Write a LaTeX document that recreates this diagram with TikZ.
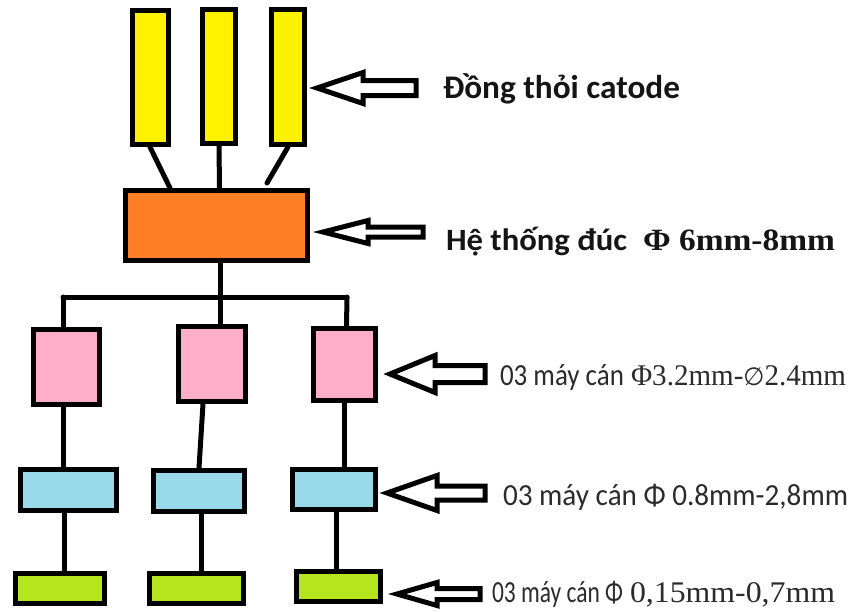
\documentclass[tikz,border=0pt]{standalone}
\usepackage{fontspec}
\usepackage{graphicx}
\newfontfamily\carl{Carlito}
\newfontfamily\tms{Liberation Serif}
\newfontfamily\djs{DejaVu Sans}
\definecolor{cyel}{HTML}{FFF200}
\definecolor{cora}{HTML}{FF7F27}
\definecolor{cpink}{HTML}{FFAEC9}
\definecolor{cblue}{HTML}{99D9EA}
\definecolor{cgreen}{HTML}{B5E61D}
\definecolor{ctxb}{HTML}{151515}
\definecolor{ctxr}{HTML}{2B2B2B}
\newcommand\barr[6]{\draw[barrow] (#1,#2) -- ++(#3,-#4) -- ++(0,{#4-#5}) -- ++(#6,0) -- ++(0,{2*#5}) -- ++(-#6,0) -- ++(0,{#4-#5}) -- cycle;}
\begin{document}
\begin{tikzpicture}[x=1pt,y=-1pt,
  box/.style={draw=black,line width=5pt,inner sep=0pt,anchor=center},
  conn/.style={draw=black,line width=5pt,line cap=round},
  barrow/.style={draw=black,fill=white,line width=5pt,line join=miter},
  lbl/.style={anchor=base west,inner sep=0pt,outer sep=0pt}]
\useasboundingbox[fill=white] (0,0) rectangle (854,611);

% cathode bars
\node[box,fill=cyel,minimum width=36pt,minimum height=134pt] (y1) at (150,77.5) {};
\node[box,fill=cyel,minimum width=33pt,minimum height=134pt] (y2) at (219,76.5) {};
\node[box,fill=cyel,minimum width=33pt,minimum height=135pt] (y3) at (288,77) {};
% casting
\node[box,fill=cora,minimum width=182pt,minimum height=70pt] (o) at (216.5,225.5) {};
% pink
\node[box,fill=cpink,minimum width=66pt,minimum height=75pt] (p1) at (66.5,367) {};
\node[box,fill=cpink,minimum width=67pt,minimum height=75pt] (p2) at (212,364) {};
\node[box,fill=cpink,minimum width=62pt,minimum height=72pt] (p3) at (344.5,364.5) {};
% blue
\node[box,fill=cblue,minimum width=96pt,minimum height=41pt] (b1) at (68.5,490) {};
\node[box,fill=cblue,minimum width=91pt,minimum height=41pt] (b2) at (199,491) {};
\node[box,fill=cblue,minimum width=83pt,minimum height=40pt] (b3) at (334,489.5) {};
% green
\node[box,fill=cgreen,minimum width=89pt,minimum height=30pt] (g1) at (60,588.5) {};
\node[box,fill=cgreen,minimum width=94pt,minimum height=30pt] (g2) at (196.5,588.5) {};
\node[box,fill=cgreen,minimum width=84pt,minimum height=30pt] (g3) at (338.5,586.5) {};

\coordinate (y3e) at (267,183);
\coordinate (busL) at (63,297);
\coordinate (busM) at (220.5,297);
\coordinate (busR) at (347,297);

% connectors
\draw[conn] (y1.south) -- ([xshift=-46.5]o.north);
\draw[conn] (y2.south) -- ([xshift=3]o.north);
\draw[conn] (y3.south) -- (y3e);
\draw[conn] ([xshift=4]o.south) -- (busM);
\draw[conn] (busL) -- (busR);
\draw[conn] (busL) -- ([xshift=-3.5]p1.north);
\draw[conn] (busM) -- ([xshift=8.5]p2.north);
\draw[conn] (busR) -- ([xshift=2]p3.north);
\draw[conn] ([xshift=-3.5]p1.south) -- ([xshift=-5.5]b1.north);
\draw[conn] ([xshift=-9]p2.south) -- (b2.north);
\draw[conn] (p3.south) -- ([xshift=10.5]b3.north);
\draw[conn] ([xshift=-4.5]b1.south) -- ([xshift=4]g1.north);
\draw[conn] ([xshift=2]b2.south) -- ([xshift=4.5]g2.north);
\draw[conn] ([xshift=2]b3.south) -- ([xshift=-2.5]g3.north);

% block arrows
\barr{317}{88}{46}{15.5}{7.5}{53}
\barr{323}{232}{45}{11.5}{5}{55}
\barr{390}{374}{45}{18.5}{8.5}{50}
\barr{387}{493}{50}{17.5}{7}{48}
\barr{397}{594}{40}{11.5}{5.5}{43}

% labels
\node[lbl,text=ctxb] (t1) at (443,98) {\resizebox{237pt}{\height}{\carl\bfseries\fontsize{33}{33}\selectfont Đồng thỏi catode}};
\node[lbl,text=ctxb] (t2) at (446,250) {\resizebox{181pt}{\height}{\carl\bfseries\fontsize{31}{31}\selectfont Hệ thống đúc}\hspace{16pt}\resizebox{192pt}{\height}{\tms\bfseries\fontsize{31}{31}\selectfont Φ 6mm-8mm}};
\node[lbl,text=ctxr] (t3) at (500,385) {\resizebox{124pt}{1.18\height}{\carl\fontsize{26}{26}\selectfont 03 máy cán}\hspace{7pt}\resizebox{215pt}{\height}{\tms\fontsize{30}{30}\selectfont Φ3.2mm-{\djs\fontsize{25}{25}\selectfont ∅}2.4mm}};
\node[lbl,text=ctxr] (t4) at (503,505) {\resizebox{345pt}{1.18\height}{\carl\fontsize{26}{26}\selectfont 03 máy cán Φ 0.8mm-2,8mm}};
\node[lbl,text=ctxr] (t5) at (492,602) {\resizebox{131pt}{1.18\height}{\carl\fontsize{26}{26}\selectfont 03 máy cán Φ}\hspace{7pt}\resizebox{205pt}{\height}{\tms\fontsize{30}{30}\selectfont 0,15mm-0,7mm}};
\end{tikzpicture}
\end{document}
